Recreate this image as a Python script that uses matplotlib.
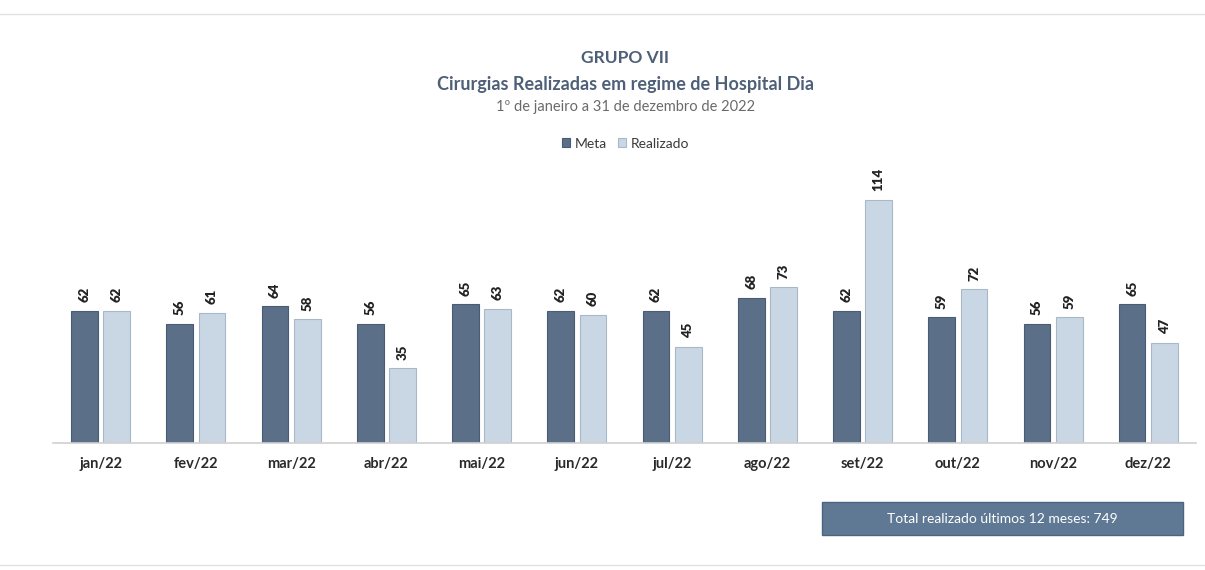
import matplotlib
matplotlib.use("Agg")
import matplotlib.pyplot as plt
import numpy as np
from matplotlib.patches import Rectangle

months = ["jan/22", "fev/22", "mar/22", "abr/22", "mai/22", "jun/22",
          "jul/22", "ago/22", "set/22", "out/22", "nov/22", "dez/22"]
meta = [62, 56, 64, 56, 65, 62, 62, 68, 62, 59, 56, 65]
realizado = [62, 61, 58, 35, 63, 60, 45, 73, 114, 72, 59, 47]
total_text = "Total realizado últimos 12 meses: 749"

plt.rcParams['font.family'] = ['Lato', 'DejaVu Sans']

fig = plt.figure(figsize=(12.05, 5.7), dpi=100)
fig.patch.set_facecolor("white")
ax = fig.add_axes([0.044, 0.2228, 0.9485, 0.479])

x = np.arange(len(months))
w = 0.28
gap = 0.03
c_meta = "#5b6f88"
c_real = "#c9d6e4"
b1 = ax.bar(x - w/2 - gap, meta, w, color=c_meta, edgecolor="#4a5c73", linewidth=0.8, label="Meta")
b2 = ax.bar(x + w/2 + gap, realizado, w, color=c_real, edgecolor="#a9b8c9", linewidth=0.8, label="Realizado")

for bars, vals in ((b1, meta), (b2, realizado)):
    for r, v in zip(bars, vals):
        ax.text(r.get_x() + r.get_width()/2, r.get_height() + 4, str(v),
                rotation=90, ha="center", va="bottom", fontsize=9.5,
                fontweight="heavy", color="#222222")

ax.set_xlim(-0.5, len(months) - 0.5)
ax.set_ylim(0, 128)
ax.set_xticks(x)
ax.set_xticklabels(months, fontsize=10.5, fontweight="bold", color="#2a2a2a")
ax.tick_params(axis="x", length=0, pad=10)
ax.set_yticks([])
for s in ["top", "right", "left"]:
    ax.spines[s].set_visible(False)
ax.spines["bottom"].set_color("#d0d0d0")
ax.spines["bottom"].set_linewidth(1.2)

fig.text(0.519, 0.898, "GRUPO VII", ha="center", va="center", fontsize=12.5,
         fontweight="bold", color="#4e5f78")
fig.text(0.519, 0.852, "Cirurgias Realizadas em regime de Hospital Dia", ha="center",
         va="center", fontsize=13, fontweight="bold", color="#4e5f78")
fig.text(0.519, 0.813, "1º de janeiro a 31 de dezembro de 2022", ha="center",
         va="center", fontsize=10.5, color="#6a6a6a")

leg = fig.legend(handles=[b1, b2], labels=["Meta", "Realizado"], loc="center",
                 bbox_to_anchor=(0.519, 0.748), ncol=2, frameon=False,
                 fontsize=10, handlelength=0.6, handleheight=0.6,
                 handletextpad=0.3, columnspacing=0.8)
for t in leg.get_texts():
    t.set_color("#3a3a3a")

box = Rectangle((0.682, 0.061), 0.3, 0.058, transform=fig.transFigure,
                facecolor="#5f7894", edgecolor="#4d6480", linewidth=1.0)
fig.patches.append(box)
fig.text(0.832, 0.09, total_text, ha="center", va="center", fontsize=10,
         color="white")

# faint frame lines
fig.add_artist(plt.Line2D([0.0, 1.0], [0.975, 0.975], color="#e2e2e2", linewidth=1.0))
fig.add_artist(plt.Line2D([0.0, 1.0], [0.008, 0.008], color="#e2e2e2", linewidth=1.0))

fig.savefig("out.png", dpi=100)
